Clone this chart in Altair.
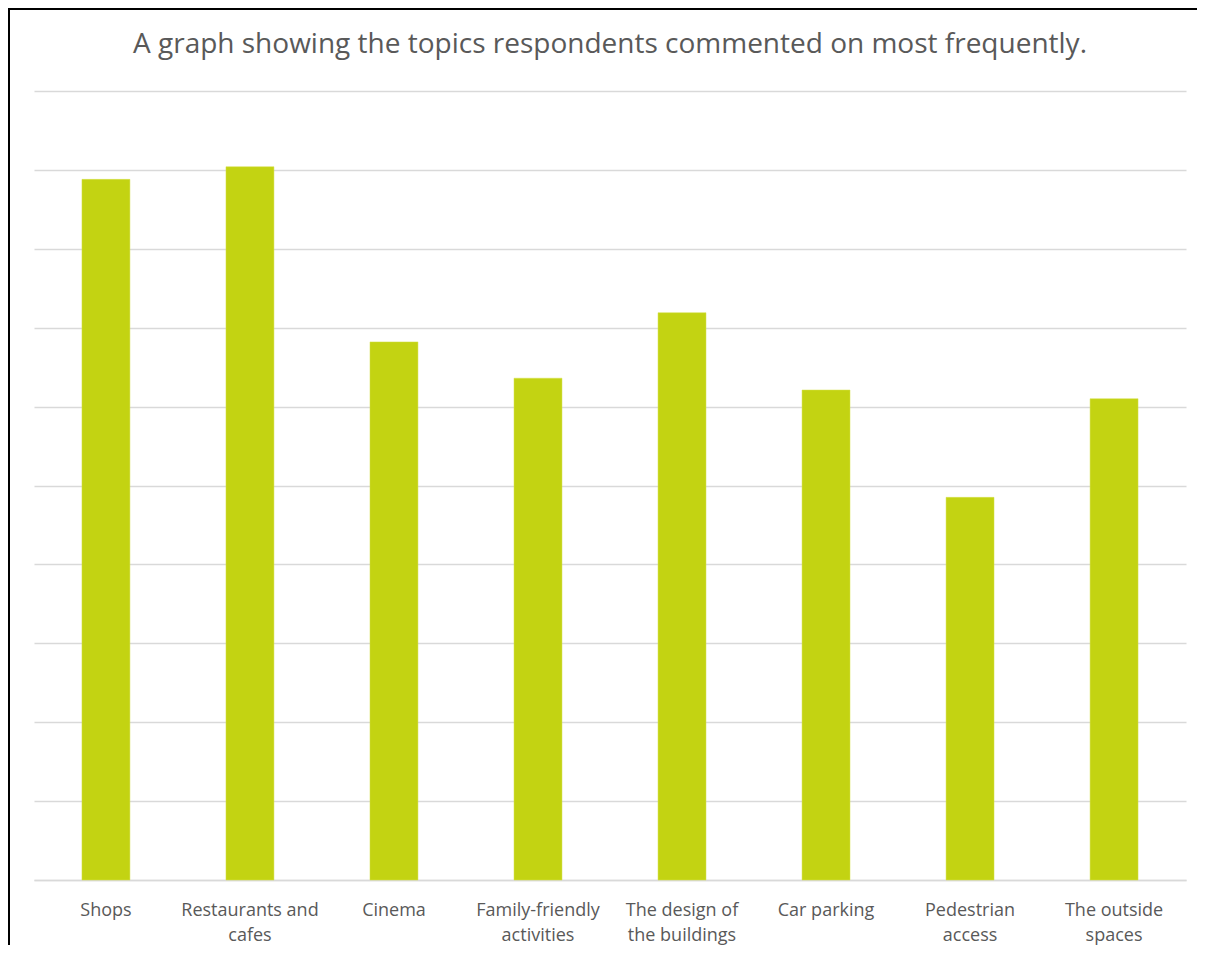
import altair as alt
import pandas as pd

categories = ["Shops", "Restaurants and cafes", "Cinema", "Family-friendly activities",
              "The design of the buildings", "Car parking", "Pedestrian access", "The outside spaces"]
tick_labels = [["Shops"], ["Restaurants and", "cafes"], ["Cinema"], ["Family-friendly", "activities"],
               ["The design of", "the buildings"], ["Car parking"], ["Pedestrian", "access"], ["The outside", "spaces"]]
values = [88.8, 90.4, 68.2, 63.6, 71.9, 62.1, 48.5, 61.0]

df = pd.DataFrame({"topic": categories, "value": values})

# build label expression for wrapped tick labels
expr = "datum.label"
for cat, lines in reversed(list(zip(categories, tick_labels))):
    arr = "[" + ",".join("'" + l + "'" for l in lines) + "]"
    expr = f"datum.label == '{cat}' ? {arr} : ({expr})"

FONT = "Open Sans"
GREY = "#595959"

bars = alt.Chart(df).mark_bar(color="#c3d312", stroke="#d4e04a", strokeWidth=0.5).encode(
    x=alt.X("topic:N", sort=categories, title=None,
            scale=alt.Scale(paddingInner=0.667, paddingOuter=0.333),
            axis=alt.Axis(labelAngle=0, ticks=False, domain=True, domainColor="#d9d9d9",
                          domainWidth=1.5, labelFont=FONT, labelFontSize=18, labelColor=GREY,
                          labelPadding=21, labelLineHeight=25, labelExpr=expr, labelLimit=300)),
    y=alt.Y("value:Q", title=None,
            scale=alt.Scale(domain=[0, 100], nice=False),
            axis=alt.Axis(values=list(range(0, 101, 10)), labels=False, ticks=False, domain=False,
                          grid=True, gridColor="#d9d9d9", gridWidth=1.5)),
)

border = alt.Chart(pd.DataFrame({"a": [0]})).mark_rect(
    fill=None, stroke="#000000", strokeWidth=2
).encode(x=alt.value(-25), x2=alt.value(1300), y=alt.value(-82), y2=alt.value(1100))

chart = alt.layer(bars, border).properties(
    width=1152, height=789,
    autosize=alt.AutoSizeParams(type="none"),
    padding={"left": 26, "top": 83, "right": 11, "bottom": 65},
    title=alt.TitleParams("A graph showing the topics respondents commented on most frequently.",
                          font=FONT, fontSize=28, fontWeight="normal", color=GREY,
                          anchor="middle", baseline="middle", offset=-65),
).configure_view(stroke=None)

chart.save("out.html", embed_options={"renderer": "svg", "actions": False})
